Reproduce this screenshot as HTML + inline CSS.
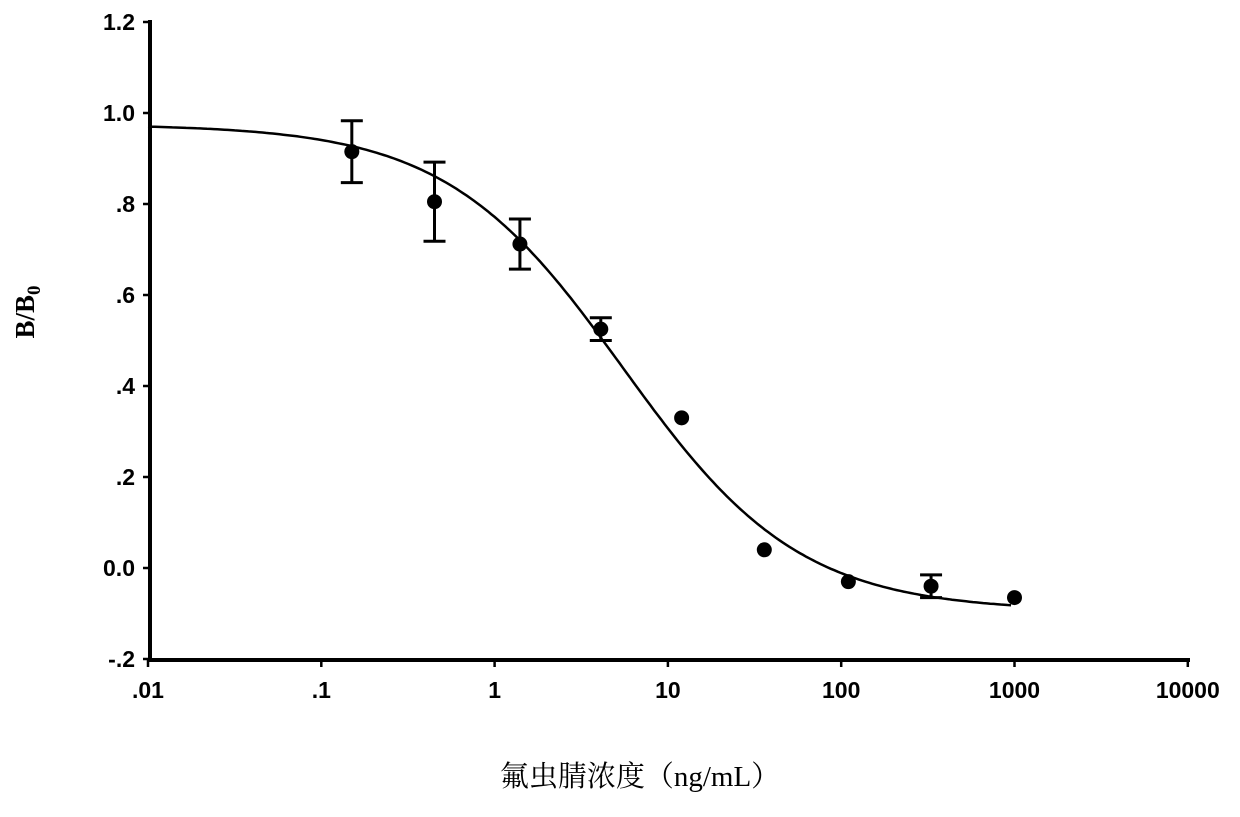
<!DOCTYPE html>
<html><head><meta charset="utf-8"><style>body{margin:0;background:#fff}</style></head>
<body>
<svg id="s" width="1240" height="812" xmlns="http://www.w3.org/2000/svg" font-family="Liberation Sans, Arial, sans-serif">
<rect width="1240" height="812" fill="#fff"/>
<g id="g"></g>
<text transform="translate(34,312) rotate(-90)" text-anchor="middle" font-family="Liberation Serif, serif" font-weight="bold" font-size="27">B/B<tspan font-size="19" dy="6">0</tspan></text>
<text x="640" y="786" text-anchor="middle" font-family="Liberation Serif, 'Noto Serif CJK SC', serif" font-size="29">氟虫腈浓度（ng/mL）</text>
</svg>
<script>
var g=document.getElementById('g'),h='';
function X(v){return 148+(Math.log10(v)+2)*173.3;}
function Y(v){return 568-v*455;}
h+='<line x1="150" y1="20" x2="150" y2="661" stroke="#000" stroke-width="4"/>';
h+='<line x1="148" y1="660" x2="1190" y2="660" stroke="#000" stroke-width="4"/>';
var yl=[[1.2,'1.2'],[1.0,'1.0'],[0.8,'.8'],[0.6,'.6'],[0.4,'.4'],[0.2,'.2'],[0,'0.0'],[-0.2,'-.2']];
yl.forEach(function(t){var y=Y(t[0]);h+='<line x1="143" y1="'+y+'" x2="150" y2="'+y+'" stroke="#000" stroke-width="2.5"/>';
h+='<text x="135" y="'+(y+8)+'" text-anchor="end" font-weight="bold" font-size="23">'+t[1]+'</text>';});
var xl=['.01','.1','1','10','100','1000','10000'];
xl.forEach(function(t,i){var x=148+i*173.3;h+='<line x1="'+x+'" y1="660" x2="'+x+'" y2="667" stroke="#000" stroke-width="2.5"/>';
h+='<text x="'+x+'" y="698" text-anchor="middle" font-weight="bold" font-size="23">'+t+'</text>';});
var p='';for(var lx=-2;lx<=3.0;lx+=0.02){var v=Math.pow(10,lx);var y=-0.095+1.07/(1+Math.pow(v/5.5,0.85));p+=(p?'L':'M')+X(v).toFixed(1)+','+Y(y).toFixed(1);}
h+='<path d="'+p+'" fill="none" stroke="#000" stroke-width="2.5"/>';
var d=[[0.15,0.915,0.068],[0.45,0.805,0.087],[1.4,0.712,0.055],[4.1,0.525,0.025],[12,0.33,0.008],[36,0.04,0.006],[110,-0.03,0.008],[330,-0.04,0.025],[1000,-0.065,0.006]];
d.forEach(function(q){var x=X(q[0]),y=Y(q[1]),e=q[2]*455;
if(q[2]>0.01){h+='<line x1="'+x+'" y1="'+(y-e)+'" x2="'+x+'" y2="'+(y+e)+'" stroke="#000" stroke-width="3"/>';
h+='<line x1="'+(x-11)+'" y1="'+(y-e)+'" x2="'+(x+11)+'" y2="'+(y-e)+'" stroke="#000" stroke-width="3"/>';
h+='<line x1="'+(x-11)+'" y1="'+(y+e)+'" x2="'+(x+11)+'" y2="'+(y+e)+'" stroke="#000" stroke-width="3"/>';}
h+='<circle cx="'+x+'" cy="'+y+'" r="7.5" fill="#000"/>';});
g.innerHTML=h;
</script>
</body></html>
